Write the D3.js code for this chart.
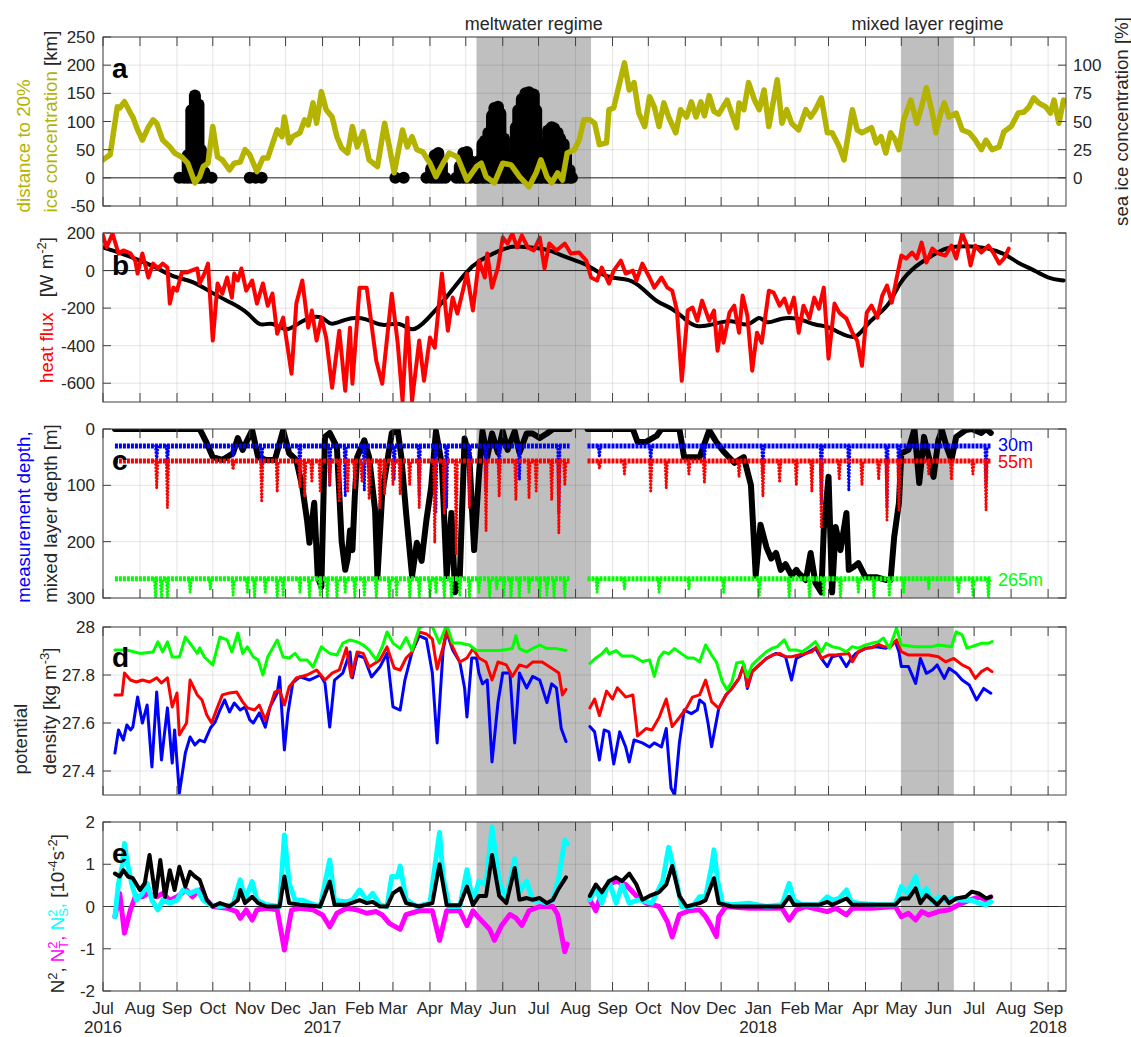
<!DOCTYPE html>
<html>
<head>
<meta charset="utf-8">
<script src="https://cdn.jsdelivr.net/npm/d3@7"></script>
<style>
  body { margin: 0; background: #fff; }
  svg { display: block; }
  text { font-family: "Liberation Sans", Arial, Helvetica, sans-serif; }
</style>
</head>
<body>
<div id="viz"></div>
<script>
// all series: [days since 1 Jul 2016, value], null = no data

// a: distance to 20% ice concentration [km]
const iceDist = [[0,32],[6,41],[12,126],[14,124],[18,135],[23,115],[25,108],[29,85],[33,67],[38,90],[42,103],[45,97],[50,67],[56,55],[60,44],[66,37],[71,26],[77,-9],[81,2],[84,20],[88,26],[92,91],[96,37],[100,32],[106,14],[110,26],[115,28],[119,50],[123,41],[129,11],[134,35],[138,35],[146,85],[150,73],[152,108],[156,62],[159,73],[165,80],[169,103],[172,94],[176,133],[179,97],[183,153],[187,121],[192,108],[196,73],[200,53],[205,44],[209,91],[213,55],[218,82],[223,32],[230,20],[236,97],[240,55],[244,9],[251,85],[255,55],[259,73],[263,50],[268,46],[274,26],[279,2],[285,26],[290,44],[297,37],[305,-4],[313,20],[317,26],[321,2],[328,-9],[335,26],[342,23],[349,2],[357,-16],[363,9],[367,32],[372,2],[376,-9],[381,9],[385,-4],[389,44],[395,50],[399,67],[403,103],[408,103],[412,97],[416,59],[422,62],[424,121],[428,124],[433,169],[437,204],[441,156],[445,169],[449,115],[454,91],[458,144],[462,126],[466,91],[470,133],[474,108],[480,80],[484,121],[489,108],[493,135],[497,108],[501,135],[504,110],[508,146],[512,118],[516,113],[523,138],[531,89],[533,133],[537,121],[541,169],[546,138],[550,121],[554,156],[558,91],[565,174],[569,97],[573,121],[577,97],[583,85],[589,121],[593,108],[597,121],[602,142],[607,80],[611,80],[617,55],[621,32],[628,121],[632,85],[636,80],[644,89],[648,62],[652,73],[656,44],[660,80],[664,67],[667,50],[671,103],[677,138],[682,97],[686,126],[690,160],[695,115],[698,80],[702,115],[705,133],[709,108],[715,115],[720,85],[726,80],[731,67],[736,50],[740,67],[745,50],[751,55],[755,82],[761,91],[767,115],[772,117],[776,126],[780,142],[784,133],[790,126],[794,115],[797,138],[801,97],[805,138]];

// a: sea ice concentration at the mooring [%]
const iceConc = [[64,0],[68,0],[71,20],[74,60],[77,73],[80,65],[82,25],[85,5],[91,0],[123,0],[128,0],[133,0],[245,0],[252,0],[271,0],[275,8],[278,20],[281,22],[284,12],[287,0],[296,0],[299,10],[302,22],[305,23],[308,15],[312,0],[313,0],[315,15],[318,30],[320,33],[323,40],[326,55],[328,62],[331,63],[333,57],[336,35],[338,10],[341,7],[343,20],[346,45],[348,60],[351,70],[354,75],[357,76],[361,74],[363,60],[366,30],[368,7],[371,25],[373,42],[376,45],[378,44],[381,40],[383,35],[386,30],[388,20],[391,7],[393,0]];

// b: heat flux [W m-2], daily (red) and smooth seasonal (black)
const heatFlux = [[0,187],[3,123],[8,197],[13,91],[17,107],[23,91],[27,53],[29,-16],[33,91],[38,-37],[42,37],[46,11],[50,37],[54,16],[56,-176],[59,-91],[62,-107],[66,-11],[70,-11],[74,0],[79,11],[81,-69],[85,-16],[88,37],[92,-373],[96,-69],[100,-123],[104,-37],[108,-144],[110,-16],[113,-53],[116,11],[120,-107],[125,-53],[129,-176],[134,-69],[138,-187],[142,-123],[146,-336],[151,-251],[158,-549],[162,-176],[167,-53],[172,-304],[175,-213],[179,-373],[183,-251],[187,-357],[192,-624],[198,-320],[203,-640],[207,-304],[209,-603],[215,-91],[221,-91],[229,-480],[234,-603],[242,-123],[247,-389],[251,-693],[255,-251],[259,-693],[265,-373],[269,-587],[274,-357],[278,-411],[284,-16],[289,-320],[293,-144],[297,-229],[305,-16],[310,-213],[315,53],[320,-37],[322,91],[326,-91],[331,16],[335,176],[339,144],[343,197],[347,123],[351,187],[356,123],[361,107],[366,176],[370,11],[374,144],[380,107],[387,144],[392,91],[399,96],[405,53],[409,-37],[414,-53],[418,16],[424,-69],[428,0],[434,53],[438,-16],[444,0],[447,-53],[452,37],[458,-37],[462,-91],[468,-37],[473,-91],[477,-107],[481,-213],[485,-587],[490,-213],[494,-197],[498,-267],[502,-160],[508,-267],[512,-213],[515,-427],[518,-293],[520,-384],[525,-224],[529,-187],[533,-331],[536,-133],[540,-240],[544,-533],[548,-331],[552,-384],[558,-107],[562,-117],[567,-187],[571,-149],[575,-224],[579,-144],[583,-331],[587,-187],[592,-256],[596,-144],[600,-203],[604,-91],[608,-469],[613,-176],[617,-224],[623,-256],[628,-331],[632,-373],[636,-507],[640,-224],[644,-187],[649,-251],[653,-133],[657,-80],[661,-171],[665,-43],[669,80],[673,64],[678,96],[682,64],[686,149],[690,43],[695,117],[700,91],[706,80],[711,133],[715,64],[720,197],[724,133],[727,27],[731,133],[736,96],[742,133],[746,96],[751,37],[755,64],[759,117]];
const heatSmooth = [[0,123],[14,96],[31,53],[45,16],[59,-37],[75,-53],[92,-123],[109,-176],[123,-229],[131,-304],[142,-267],[154,-336],[165,-267],[184,-229],[190,-304],[204,-251],[221,-251],[234,-304],[249,-267],[259,-336],[271,-267],[288,-144],[305,0],[315,53],[332,107],[343,133],[357,123],[372,117],[388,69],[405,37],[416,-16],[427,-43],[441,-43],[452,-91],[464,-171],[477,-197],[489,-267],[497,-304],[510,-290],[527,-256],[541,-309],[550,-229],[556,-293],[567,-251],[583,-251],[597,-293],[606,-293],[617,-331],[631,-373],[639,-293],[648,-240],[659,-187],[667,-64],[681,27],[695,80],[706,123],[723,133],[740,123],[756,91],[767,37],[778,11],[792,-43],[805,-53]];

// c: mixed layer depth [m]
const mld = [[10,0],[81,0],[87,25],[92,50],[100,55],[109,43],[113,16],[117,37],[125,2],[130,50],[137,55],[144,55],[151,2],[156,43],[162,55],[167,103],[171,162],[173,202],[177,131],[180,263],[183,280],[186,14],[190,7],[196,32],[198,114],[200,200],[203,250],[205,230],[207,180],[209,215],[211,120],[213,50],[219,20],[223,50],[228,144],[230,263],[234,114],[242,7],[247,2],[250,50],[254,149],[259,261],[263,202],[267,234],[271,162],[275,103],[279,4],[284,63],[288,261],[292,149],[295,290],[299,261],[303,17],[307,50],[311,215],[315,83],[318,4],[322,50],[326,8],[331,42],[335,4],[339,37],[345,4],[349,42],[355,8],[360,8],[366,16],[372,8],[377,0],[391,0],[398,null],[406,0],[444,0],[448,23],[455,23],[464,12],[468,0],[483,0],[487,50],[493,50],[500,50],[508,2],[514,23],[520,40],[529,60],[537,50],[543,100],[547,260],[551,170],[556,210],[560,230],[564,220],[568,250],[572,240],[577,260],[581,250],[583,256],[589,268],[593,220],[597,273],[602,290],[604,179],[608,85],[611,290],[614,174],[618,215],[623,149],[625,250],[629,245],[633,238],[639,263],[648,263],[656,268],[660,268],[663,192],[667,131],[669,43],[675,37],[680,0],[684,96],[688,14],[692,50],[696,85],[700,20],[703,2],[707,32],[711,55],[715,14],[723,2],[728,0],[736,7],[740,0],[744,7]];

// c: instrument depths [m], deployments and knock-down events [day, deepest depth]
const instrDepth = [30, 57, 266];
const deployments = [[10, 391], [406, 744]];
const knock30 = [[45,60],[54,70],[109,50],[133,65],[165,80],[190,100],[203,120],[219,110],[244,90],[265,120],[279,150],[288,140],[307,130],[321,110],[332,80],[349,90],[382,150],[416,50],[459,60],[504,55],[553,80],[602,130],[625,110],[657,140],[667,130],[740,100]];
const knock55 = [[45,105],[54,140],[109,72],[133,130],[146,112],[165,103],[169,120],[175,95],[182,110],[190,100],[198,130],[205,110],[211,105],[217,95],[223,125],[232,140],[236,115],[243,100],[249,115],[257,100],[265,140],[278,202],[286,150],[296,222],[307,140],[321,181],[332,120],[346,126],[357,123],[363,110],[376,126],[382,185],[387,100],[416,70],[437,80],[459,110],[472,105],[491,80],[504,96],[533,85],[553,120],[567,95],[581,100],[594,111],[602,174],[617,90],[636,100],[650,90],[657,162],[667,144],[692,80],[711,90],[729,80],[740,144]];
const knock265 = [[44,300],[49,300],[54,300],[73,290],[90,285],[109,295],[121,290],[127,300],[136,290],[146,300],[151,295],[165,290],[173,300],[182,295],[188,300],[196,300],[203,290],[211,300],[219,295],[229,300],[240,300],[246,295],[257,300],[265,300],[274,300],[279,290],[286,300],[292,300],[299,295],[307,300],[315,290],[324,300],[330,285],[336,295],[342,300],[349,300],[357,290],[366,300],[372,295],[378,300],[387,300],[414,290],[437,285],[466,290],[491,285],[520,290],[550,295],[575,300],[592,300],[604,295],[618,300],[633,290],[646,300],[659,295],[671,290],[692,285],[717,290],[729,295],[742,300]];

// d: potential density [kg m-3]
const sig265 = [[10,27.904],[20,27.904],[31,27.89],[42,27.896],[46,27.938],[50,27.896],[54,27.938],[58,27.875],[64,27.875],[69,27.958],[74,27.925],[79,27.89],[81,27.913],[85,27.875],[92,27.842],[98,27.958],[104,27.946],[108,27.896],[113,27.975],[117,27.89],[121,27.917],[126,27.875],[130,27.863],[134,27.8],[138,27.875],[146,27.946],[151,27.875],[156,27.871],[161,27.89],[165,27.863],[171,27.863],[176,27.833],[183,27.917],[190,27.89],[196,27.883],[201,27.933],[207,27.946],[213,27.938],[218,27.925],[223,27.904],[229,27.863],[234,27.917],[238,27.979],[243,27.933],[249,27.91],[254,27.956],[259,27.902],[265,27.996],[271,28.01],[276,28.0],[282,27.933],[288,28.01],[293,27.933],[299,27.933],[307,27.925],[313,27.902],[321,27.902],[332,27.902],[343,27.91],[346,27.964],[349,27.91],[355,27.896],[360,27.91],[366,27.925],[372,27.91],[380,27.91],[388,27.902],[398,null],[408,27.848],[413,27.871],[418,27.888],[422,27.91],[424,27.888],[430,27.902],[435,27.879],[444,27.879],[452,27.856],[458,27.863],[462,27.794],[466,27.871],[470,27.896],[474,27.888],[479,27.91],[485,27.888],[490,27.871],[495,27.871],[500,27.855],[505,27.925],[510,27.883],[514,27.855],[519,27.772],[523,27.738],[527,27.772],[531,27.85],[536,27.855],[540,27.793],[544,27.842],[550,27.871],[556,27.897],[561,27.912],[565,27.918],[571,27.946],[575,27.904],[581,27.904],[586,27.897],[592,27.918],[597,27.939],[602,27.897],[606,27.932],[611,27.918],[617,27.912],[623,27.897],[628,27.918],[633,27.912],[639,27.925],[644,27.932],[650,27.939],[654,27.954],[659,27.912],[663,27.967],[665,27.996],[669,27.925],[681,27.918],[695,27.918],[700,27.925],[711,27.918],[715,27.98],[720,27.967],[724,27.912],[728,27.918],[732,27.925],[736,27.932],[742,27.932],[745,27.939]];
const sig55 = [[10,27.717],[16,27.717],[18,27.808],[23,27.779],[28,27.771],[33,27.779],[39,27.771],[45,27.788],[49,27.767],[54,27.788],[58,27.667],[62,27.725],[64,27.55],[70,27.6],[73,27.779],[79,27.717],[83,27.696],[87,27.633],[91,27.6],[95,27.654],[100,27.717],[106,27.725],[112,27.729],[117,27.688],[121,27.663],[127,27.654],[131,27.675],[136,27.613],[140,27.667],[144,27.729],[148,27.738],[152,27.675],[156,27.75],[162,27.788],[171,27.8],[179,27.821],[186,27.779],[192,27.808],[198,27.821],[204,27.913],[208,27.792],[213,27.896],[218,27.89],[223,27.833],[232,27.863],[238,27.917],[244,27.829],[249,27.821],[254,27.871],[259,27.896],[265,27.979],[271,27.971],[276,27.95],[280,27.825],[285,27.917],[288,27.988],[293,27.917],[299,27.854],[305,27.871],[310,27.91],[315,27.871],[321,27.854],[326,27.779],[331,27.854],[338,27.842],[343,27.794],[349,27.842],[355,27.833],[360,27.854],[368,27.854],[377,27.825],[382,27.808],[385,27.717],[388,27.74],[398,null],[408,27.663],[412,27.7],[416,27.631],[422,27.733],[427,27.7],[431,27.747],[438,27.708],[444,27.717],[448,27.546],[455,27.577],[460,27.571],[466,27.623],[472,27.7],[477,27.585],[483,27.623],[489,27.663],[494,27.708],[500,27.717],[505,27.779],[510,27.689],[516,27.661],[522,27.717],[527,27.744],[533,27.786],[537,27.842],[540,27.751],[544,27.814],[550,27.842],[556,27.869],[561,27.883],[567,27.89],[572,27.876],[577,27.876],[583,27.883],[589,27.89],[594,27.897],[598,27.918],[602,27.869],[608,27.883],[614,27.883],[619,27.886],[625,27.89],[628,27.855],[633,27.897],[639,27.911],[644,27.914],[650,27.928],[654,27.918],[660,27.918],[665,27.946],[669,27.897],[675,27.883],[684,27.883],[692,27.883],[700,27.876],[706,27.855],[713,27.869],[720,27.842],[726,27.828],[731,27.786],[736,27.814],[741,27.828],[745,27.814]];
const sig30 = [[10,27.475],[13,27.571],[17,27.529],[20,27.592],[23,27.571],[25,27.583],[29,27.708],[33,27.6],[37,27.675],[41,27.417],[45,27.729],[49,27.446],[54,27.663],[58,27.433],[60,27.571],[64,27.308],[69,27.475],[73,27.542],[77,27.508],[81,27.529],[85,27.521],[90,27.579],[94,27.604],[98,27.654],[102,27.696],[106,27.646],[110,27.683],[115,27.654],[119,27.667],[123,27.613],[126,27.6],[131,27.642],[136,27.583],[140,27.667],[146,27.725],[148,27.792],[152,27.488],[155,27.642],[159,27.767],[165,27.792],[173,27.779],[182,27.8],[186,27.767],[190,27.583],[194,27.779],[201,27.808],[207,27.896],[209,27.788],[213,27.883],[219,27.871],[225,27.792],[232,27.833],[238,27.89],[243,27.667],[249,27.654],[253,27.779],[259,27.896],[265,27.963],[271,27.95],[276,27.808],[280,27.517],[285,27.904],[288,27.979],[293,27.904],[299,27.854],[303,27.746],[305,27.625],[309,27.871],[313,27.871],[315,27.808],[318,27.763],[322,27.779],[326,27.438],[331,27.685],[335,27.808],[341,27.808],[345,27.517],[349,27.808],[355,27.746],[360,27.794],[366,27.779],[372,27.685],[376,27.763],[380,27.746],[384,27.577],[388,27.523],[398,null],[408,27.585],[412,27.563],[416,27.446],[420,27.571],[424,27.563],[428,27.429],[433,27.563],[438,27.5],[441,27.438],[445,27.529],[452,27.517],[458,27.5],[462,27.517],[468,27.5],[472,27.577],[476,27.329],[479,27.3],[483,27.517],[487,27.654],[493,27.639],[498,27.654],[500,27.696],[504,27.68],[507,27.6],[510,27.501],[516,27.661],[522,27.717],[527,27.744],[533,27.786],[537,27.842],[540,27.744],[544,27.814],[550,27.842],[556,27.869],[564,27.89],[572,27.876],[577,27.779],[581,27.869],[589,27.89],[597,27.911],[602,27.869],[607,27.835],[611,27.876],[617,27.883],[623,27.835],[627,27.869],[631,27.89],[639,27.911],[648,27.918],[656,27.911],[664,27.939],[667,27.897],[669,27.835],[675,27.835],[681,27.765],[685,27.869],[690,27.807],[695,27.821],[699,27.842],[705,27.786],[709,27.828],[715,27.807],[720,27.779],[726,27.758],[732,27.696],[738,27.744],[744,27.724]];

// e: stratification [1e-4 s-2]
const n2S = [[10,-0.24],[13,0.55],[16,0.94],[18,1.49],[21,0.94],[24,0.55],[28,0.15],[33,0.31],[37,0.55],[41,0.15],[46,-0.08],[50,0.15],[56,0.08],[62,0.15],[67,0.39],[73,0.31],[79,0.39],[84,0.15],[90,0.04],[98,0],[109,0.04],[115,0.63],[119,0.15],[125,0.59],[129,0.15],[137,0.04],[148,0],[152,1.69],[156,0.55],[161,0.15],[167,0.15],[173,0.08],[182,0],[190,1.1],[194,0.15],[204,0.11],[209,0.15],[215,0.39],[221,0.15],[226,0.31],[232,0.04],[238,0],[242,0.71],[247,0.71],[249,0.96],[254,0.16],[263,0],[274,0.08],[279,1.13],[282,1.75],[285,0.69],[290,0],[299,0],[305,0.87],[310,0.08],[315,0.6],[321,0.52],[326,1.88],[332,0.6],[338,0.16],[345,1.13],[349,0.34],[355,0.6],[360,0.16],[372,0.08],[377,0.16],[382,0.69],[387,1.57],[389,1.48],[398,null],[408,0.16],[413,0.43],[418,0.08],[424,0.6],[430,0.08],[435,0.52],[441,0.08],[449,0.16],[460,0.08],[469,0.6],[474,1.4],[480,0.69],[485,0],[494,0],[500,0.23],[505,0.23],[510,0.94],[512,1.34],[515,0.63],[519,0.08],[527,0.04],[541,0.08],[556,0],[569,0.04],[575,0.55],[579,0.15],[586,0.04],[600,0.04],[607,0.23],[611,0.15],[617,0.19],[623,0.39],[627,0.11],[633,0.08],[648,0.04],[664,0.04],[669,0.47],[674,0.31],[681,0.71],[685,0.23],[690,0.43],[695,0.11],[700,0.23],[706,0.15],[711,0.19],[720,0.15],[728,0.15],[734,0.08],[740,0.04],[744,0.11]];
const n2T = [[10,-0.24],[14,0.31],[18,-0.63],[23,-0.08],[27,0.23],[33,0.23],[38,0.31],[45,0.23],[50,0.31],[56,0.15],[62,0.23],[70,0.39],[75,0.23],[81,0.39],[87,0.15],[92,0],[104,-0.04],[112,-0.12],[115,-0.28],[120,-0.08],[125,-0.32],[129,-0.08],[137,-0.04],[146,-0.08],[152,-1.03],[158,-0.08],[165,-0.04],[176,-0.08],[184,-0.2],[190,-0.48],[196,-0.16],[204,-0.04],[213,-0.08],[221,-0.16],[229,-0.12],[234,-0.2],[240,-0.4],[249,-0.54],[254,-0.19],[265,-0.1],[276,-0.1],[282,-0.8],[288,-0.1],[299,-0.1],[305,-0.45],[310,-0.1],[315,-0.27],[324,-0.54],[328,-0.8],[334,-0.45],[341,-0.19],[346,-0.27],[351,-0.45],[357,-0.1],[366,0],[377,0],[381,-0.19],[384,-0.63],[387,-1.07],[389,-0.89],[398,null],[408,0.16],[413,-0.1],[418,0.34],[424,0.52],[430,0.6],[438,0.52],[447,0.25],[455,0.08],[466,0],[473,-0.36],[477,-0.72],[483,-0.19],[491,-0.1],[500,-0.08],[505,-0.24],[510,-0.48],[514,-0.71],[516,-0.24],[522,0],[541,-0.04],[569,-0.04],[575,-0.32],[581,-0.08],[589,0],[607,-0.12],[614,-0.04],[623,-0.2],[628,-0.04],[644,-0.04],[664,0],[669,-0.24],[675,-0.16],[681,-0.32],[686,-0.12],[692,-0.2],[700,-0.12],[709,-0.08],[717,0.04],[726,0.15],[734,0.23],[740,0.15],[744,0.23]];
const n2 = [[10,0.78],[14,0.71],[17,0.86],[21,0.71],[25,0.67],[31,0.39],[35,0.55],[39,1.22],[44,0.23],[48,1.1],[52,0.23],[56,0.86],[60,0.39],[64,0.94],[69,0.47],[73,0.82],[77,0.71],[81,0.63],[87,0.15],[92,0],[98,0.08],[106,0],[113,0.15],[115,0.39],[119,0.08],[125,0.23],[130,0.08],[137,0],[148,0],[152,0.71],[156,0.08],[165,0.04],[182,0],[190,0.59],[194,0.04],[204,0.04],[215,0.15],[221,0.08],[226,0.11],[232,0],[238,0],[243,0.31],[249,0.43],[254,0.08],[265,0],[276,0.08],[282,1.0],[288,0.03],[299,0.03],[305,0.47],[310,0.03],[315,0.25],[321,0.25],[326,1.22],[332,0.25],[338,0.08],[345,0.91],[349,0.16],[355,0.2],[360,0.16],[366,0.2],[372,0.08],[377,0.16],[382,0.43],[388,0.69],[398,null],[408,0.25],[413,0.52],[418,0.34],[424,0.6],[430,0.69],[435,0.6],[441,0.78],[447,0.52],[452,0.16],[458,0.25],[466,0.34],[472,0.52],[477,0.96],[483,0.25],[489,0],[500,0.08],[505,0.15],[512,0.67],[516,0.08],[527,0],[569,0],[575,0.23],[579,0.04],[600,0.04],[607,0.11],[611,0.04],[623,0.19],[628,0.04],[664,0.04],[669,0.19],[675,0.19],[681,0.43],[685,0.08],[690,0.27],[695,0.15],[699,0.04],[705,0.23],[709,0.08],[715,0.19],[723,0.23],[728,0.35],[734,0.31],[740,0.19],[744,0.23]];

// shaded regimes and axis labels
const regimes = [
  {label: 'meltwater regime', start: '2017-05-10', end: '2017-08-14'},
  {label: 'mixed layer regime', start: '2018-05-01', end: '2018-06-14'}
];
const yearLabels = [['2016-07-01', '2016'], ['2017-01-01', '2017'], ['2018-01-01', '2018'], ['2018-09-01', '2018']];
const ticksA = [-50, 0, 50, 100, 150, 200, 250];
const ticksAr = [0, 25, 50, 75, 100];
const ticksB = [-600, -400, -200, 0, 200];
const ticksC = [0, 100, 200, 300];
const ticksD = [27.4, 27.6, 27.8, 28];
const ticksE = [-2, -1, 0, 1, 2];

const yellow = '#b3b300', blue = '#0000ff', red = '#ff0000', green = '#00ff00',
      cyan = '#00ffff', magenta = '#ff00ff';
const labelSize = 18.7;

const parse = d3.timeParse('%Y-%m-%d');
const t0 = new Date(2016, 6, 1);
const day = d => d3.timeDay.offset(t0, d);

const svg = d3.select('#viz').append('svg')
  .attr('width', 1131).attr('height', 1037);
const defs = svg.append('defs');

let left = 103, right = 1066;
const xScale = d3.scaleTime()
  .domain([t0, new Date(2018, 8, 16)])
  .range([left, right]);
const months = d3.timeMonth.range(t0, new Date(2018, 8, 2));

const yA = d3.scaleLinear().domain([-50, 250]).range([206, 37]);
const yAr = d3.scaleLinear().domain([-25, 125]).range([206, 37]);
const yB = d3.scaleLinear().domain([-700, 200]).range([402, 233]);
const yC = d3.scaleLinear().domain([0, 300]).range([429, 598]);
const yD = d3.scaleLinear().domain([27.3, 28]).range([795, 627]);
const yE = d3.scaleLinear().domain([-2, 2]).range([991, 822]);

function makePanel(id, y, ticks) {
  let top = d3.min(y.range()), bot = d3.max(y.range());
  let g = svg.append('g');
  defs.append('clipPath').attr('id', 'clip' + id)
    .append('rect')
    .attr('x', left).attr('y', top)
    .attr('width', right - left).attr('height', bot - top);
  g.selectAll('rect.regime').data(regimes).join('rect')
    .attr('class', 'regime')
    .attr('x', d => xScale(parse(d.start)))
    .attr('width', d => xScale(parse(d.end)) - xScale(parse(d.start)))
    .attr('y', top).attr('height', bot - top)
    .attr('fill', '#bfbfbf');
  // grid
  g.append('g').selectAll('line').data(months).join('line')
    .attr('x1', d => xScale(d)).attr('x2', d => xScale(d))
    .attr('y1', top).attr('y2', bot)
    .attr('stroke', '#262626').attr('stroke-opacity', 0.12);
  g.append('g').selectAll('line').data(ticks).join('line')
    .attr('x1', left).attr('x2', right)
    .attr('y1', d => y(d)).attr('y2', d => y(d))
    .attr('stroke', '#262626').attr('stroke-opacity', 0.12);
  let plot = g.append('g').attr('clip-path', `url(#clip${id})`);
  return {g, plot, top, bot};
}

function finishPanel(p, y, ticks, rightScale, rightTicks) {
  let g = p.g.append('g');
  g.append('rect')
    .attr('x', left).attr('y', p.top)
    .attr('width', right - left).attr('height', p.bot - p.top)
    .attr('fill', 'none').attr('stroke', '#404040').attr('stroke-width', 1);
  // month ticks top and bottom, pointing in
  g.selectAll('line.xt').data(months).join('line')
    .attr('class', 'xt')
    .attr('x1', d => xScale(d)).attr('x2', d => xScale(d))
    .attr('y1', p.top).attr('y2', p.top + 9)
    .attr('stroke', '#404040');
  g.selectAll('line.xb').data(months).join('line')
    .attr('class', 'xb')
    .attr('x1', d => xScale(d)).attr('x2', d => xScale(d))
    .attr('y1', p.bot).attr('y2', p.bot - 9)
    .attr('stroke', '#404040');
  g.selectAll('line.yl').data(ticks).join('line')
    .attr('class', 'yl')
    .attr('x1', left).attr('x2', left + 8)
    .attr('y1', d => y(d)).attr('y2', d => y(d))
    .attr('stroke', '#404040');
  let rs = rightScale || y, rt = rightTicks || ticks;
  g.selectAll('line.yr').data(rt).join('line')
    .attr('class', 'yr')
    .attr('x1', right).attr('x2', right - 8)
    .attr('y1', d => rs(d)).attr('y2', d => rs(d))
    .attr('stroke', '#404040');
  g.selectAll('text.yl').data(ticks).join('text')
    .attr('class', 'yl')
    .attr('x', left - 8).attr('y', d => y(d))
    .attr('dy', '0.36em').attr('text-anchor', 'end')
    .attr('font-size', 17).attr('fill', '#262626')
    .text(d => d);
  if (rightScale) {
    g.selectAll('text.yr').data(rightTicks).join('text')
      .attr('class', 'yr')
      .attr('x', right + 7).attr('y', d => rightScale(d))
      .attr('dy', '0.36em').attr('text-anchor', 'start')
      .attr('font-size', 17).attr('fill', '#262626')
      .text(d => d);
  }
}

function zeroLine(p, y) {
  p.plot.append('line')
    .attr('x1', left).attr('x2', right)
    .attr('y1', y(0)).attr('y2', y(0))
    .attr('stroke', '#262626').attr('stroke-width', 1);
}

function drawLine(p, y, data, color, width, curve) {
  let line = d3.line()
    .defined(d => d[1] !== null)
    .x(d => xScale(day(d[0])))
    .y(d => y(d[1]))
    .curve(curve || d3.curveLinear);
  p.plot.append('path')
    .datum(data)
    .attr('d', line)
    .attr('fill', 'none')
    .attr('stroke', color)
    .attr('stroke-width', width)
    .attr('stroke-linejoin', 'round')
    .attr('stroke-linecap', 'round');
}

// text parts: {s, c, sup, sub, dx}
function addParts(t, parts) {
  let shift = 0;
  parts.forEach(p => {
    if (p.sup) {
      t.append('tspan').attr('fill', p.c).attr('font-size', 13)
        .attr('dy', -7.5 - shift).text(p.s);
      shift = -7.5;
      if (p.sub) {
        t.append('tspan').attr('fill', p.c).attr('font-size', 13)
          .attr('dx', -7.2).attr('dy', 11.5).text(p.sub);
        shift = 4;
      }
    } else {
      let ts = t.append('tspan').attr('fill', p.c).attr('dy', -shift).text(p.s);
      if (p.dx) ts.attr('dx', p.dx);
      shift = 0;
    }
  });
}

// multi-line rotated label, lines bottom aligned, block centred on cy
function yLabel(lines, cy) {
  let texts = lines.map(l => {
    let t = svg.append('text').attr('font-size', labelSize).attr('text-anchor', 'start');
    addParts(t, l.parts);
    return t;
  });
  let maxLen = d3.max(texts, t => t.node().getComputedTextLength());
  texts.forEach((t, i) => {
    t.attr('transform', `translate(${lines[i].x},${cy + maxLen / 2}) rotate(-90)`);
  });
}

function panelLetter(letter, yBase) {
  svg.append('text')
    .attr('x', 112).attr('y', yBase)
    .attr('font-size', 28).attr('font-weight', 'bold')
    .text(letter);
}

// ---------- panel a ----------
let pA = makePanel('a', yA, ticksA);
zeroLine(pA, yA);
pA.plot.append('g').selectAll('line').data(iceConc).join('line')
  .attr('x1', d => xScale(day(d[0]))).attr('x2', d => xScale(day(d[0])))
  .attr('y1', yAr(0)).attr('y2', d => yAr(d[1]))
  .attr('stroke', 'black').attr('stroke-width', 12)
  .attr('stroke-linecap', 'round');
drawLine(pA, yA, iceDist, yellow, 5.5);
finishPanel(pA, yA, ticksA, yAr, ticksAr);

svg.selectAll('text.regime').data(regimes).join('text')
  .attr('class', 'regime')
  .attr('x', d => (xScale(parse(d.start)) + xScale(parse(d.end))) / 2)
  .attr('y', 30)
  .attr('text-anchor', 'middle').attr('font-size', 18).attr('fill', '#262626')
  .text(d => d.label);

// ---------- panel b ----------
let pB = makePanel('b', yB, ticksB);
zeroLine(pB, yB);
drawLine(pB, yB, heatSmooth, 'black', 4, d3.curveBasis);
drawLine(pB, yB, heatFlux, red, 4);
finishPanel(pB, yB, ticksB);

// ---------- panel c ----------
let pC = makePanel('c', yC, ticksC);
drawLine(pC, yC, mld, 'black', 6);
let knocks = [knock30, knock55, knock265];
[blue, red, green].forEach((col, i) => {
  let nom = instrDepth[i];
  pC.plot.append('g').selectAll('line').data(deployments).join('line')
    .attr('x1', d => xScale(day(d[0]))).attr('x2', d => xScale(day(d[1])))
    .attr('y1', yC(nom)).attr('y2', yC(nom))
    .attr('stroke', col).attr('stroke-width', 5)
    .attr('stroke-dasharray', '3,1');
  // knock-down events drawn as columns of dots
  pC.plot.append('g').selectAll('path').data(knocks[i]).join('path')
    .attr('d', d => `M${xScale(day(d[0] - 1))},${yC(nom)}L${xScale(day(d[0]))},${yC(d[1])}L${xScale(day(d[0] + 1))},${yC(nom)}`)
    .attr('fill', 'none').attr('stroke', col).attr('stroke-width', 3)
    .attr('stroke-linecap', 'round')
    .attr('stroke-dasharray', '0.1,3.2');
});
finishPanel(pC, yC, ticksC);
svg.append('text').attr('x', 998).attr('y', yC(instrDepth[0]) + 5)
  .attr('font-size', 18).attr('fill', blue).text('30m');
svg.append('text').attr('x', 998).attr('y', yC(instrDepth[1]) + 7)
  .attr('font-size', 18).attr('fill', red).text('55m');
svg.append('text').attr('x', 998).attr('y', yC(instrDepth[2]) + 7)
  .attr('font-size', 18).attr('fill', green).text('265m');

// ---------- panel d ----------
let pD = makePanel('d', yD, ticksD);
drawLine(pD, yD, sig30, blue, 3);
drawLine(pD, yD, sig55, red, 3);
drawLine(pD, yD, sig265, green, 3);
finishPanel(pD, yD, ticksD);

// ---------- panel e ----------
let pE = makePanel('e', yE, ticksE);
zeroLine(pE, yE);
drawLine(pE, yE, n2T, magenta, 5);
drawLine(pE, yE, n2S, cyan, 5);
drawLine(pE, yE, n2, 'black', 4);
finishPanel(pE, yE, ticksE);

// x tick labels
svg.append('g').selectAll('text').data(months).join('text')
  .attr('x', d => xScale(d)).attr('y', 1014)
  .attr('text-anchor', 'middle').attr('font-size', 17).attr('fill', '#262626')
  .text(d3.timeFormat('%b'));
svg.append('g').selectAll('text').data(yearLabels).join('text')
  .attr('x', d => xScale(parse(d[0]))).attr('y', 1033)
  .attr('text-anchor', 'middle').attr('font-size', 17).attr('fill', '#262626')
  .text(d => d[1]);

// panel letters
panelLetter('a', 78);
panelLetter('b', 275);
panelLetter('c', 470);
panelLetter('d', 667);
panelLetter('e', 863);

// y labels
yLabel([
  {x: 30, parts: [{s: 'distance to 20%', c: yellow}]},
  {x: 57, parts: [{s: 'ice concentration', c: yellow}, {s: ' [km]', c: '#262626'}]}
], (yA.range()[0] + yA.range()[1]) / 2);
yLabel([
  {x: 53, parts: [{s: 'heat flux', c: red}, {s: '[W m', c: '#262626', dx: 15}, {s: '-2', c: '#262626', sup: true}, {s: ']', c: '#262626'}]}
], (yB.range()[0] + yB.range()[1]) / 2);
yLabel([
  {x: 30, parts: [{s: 'measurement depth,', c: blue}]},
  {x: 57, parts: [{s: 'mixed layer depth [m]', c: '#262626'}]}
], (yC.range()[0] + yC.range()[1]) / 2);
yLabel([
  {x: 27, parts: [{s: 'potential', c: '#262626'}]},
  {x: 56, parts: [{s: 'density [kg m', c: '#262626'}, {s: '-3', c: '#262626', sup: true}, {s: ']', c: '#262626'}]}
], (yD.range()[0] + yD.range()[1]) / 2);
yLabel([
  {x: 64, parts: [
    {s: 'N', c: '#262626'}, {s: '2', c: '#262626', sup: true}, {s: ', ', c: '#262626'},
    {s: 'N', c: magenta}, {s: '2', c: magenta, sup: true, sub: 'T'}, {s: ', ', c: magenta},
    {s: 'N', c: cyan}, {s: '2', c: cyan, sup: true, sub: 'S'}, {s: ', ', c: cyan},
    {s: '[10', c: '#262626'}, {s: '-4', c: '#262626', sup: true}, {s: 's', c: '#262626'},
    {s: '-2', c: '#262626', sup: true}, {s: ']', c: '#262626'}
  ]}
], (yE.range()[0] + yE.range()[1]) / 2);

// right label of panel a
svg.append('text')
  .attr('transform', `translate(1128,${(yA.range()[0] + yA.range()[1]) / 2}) rotate(-90)`)
  .attr('text-anchor', 'middle').attr('font-size', labelSize).attr('fill', '#262626')
  .text('sea ice concentration [%]');
</script>
</body>
</html>
